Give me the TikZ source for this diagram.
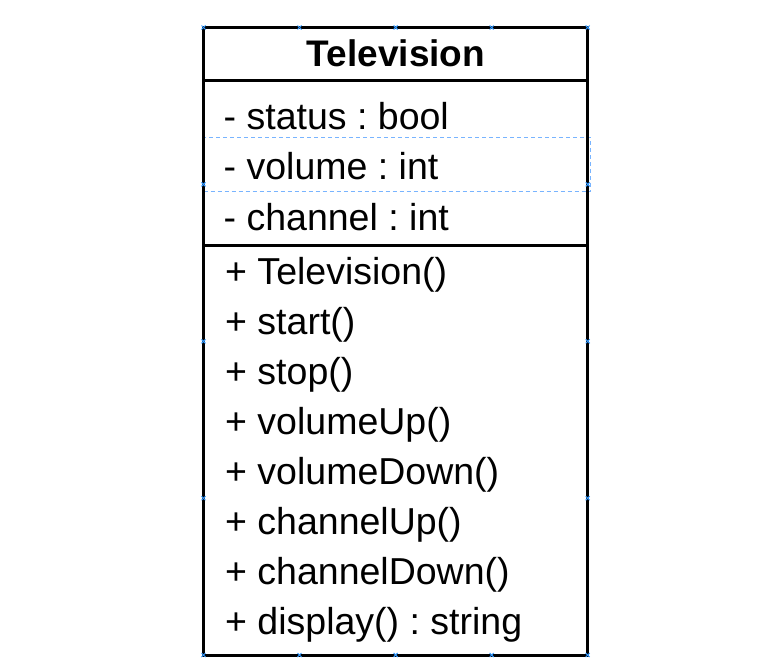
\documentclass[tikz,border=0pt]{standalone}
\usepackage{fontspec}
\setmainfont{Liberation Sans}
\frenchspacing
\begin{document}
\begin{tikzpicture}[x=1pt,y=-1pt,
  txt/.style={anchor=base west,inner sep=0pt,font=\fontsize{37.5}{40}\selectfont},
  ttl/.style={anchor=center,inner sep=0pt,font=\fontsize{37}{40}\selectfont\bfseries},
  border/.style={line width=3pt,black},
  sel/.style={draw={rgb,255:red,120;green,180;blue,255},line width=1pt,dash pattern=on 4pt off 3pt},
  hdl/.style={draw={rgb,255:red,51;green,153;blue,255},line width=1pt}]
\useasboundingbox (0,0) rectangle (778,670);
\fill[white] (0,0) rectangle (778,670);
% coordinates
\coordinate (tl) at (203.5,27.5);
\coordinate (br) at (587.7,655);
% selection rectangle around volume row
\draw[sel] (202,137.3) rectangle (590.5,191.7);
% box
\draw[border] (tl) rectangle (br);
\draw[border] (203.5,80) -- (587.7,80);
\draw[border] (203.5,245.7) -- (587.7,245.7);
% title
\node[ttl] (title) at (396,53.5) {Television};
% attributes
\node[txt] (a1) at (223.5,129) {- status : bool};
\node[txt] (a2) at (223.5,179.5) {- volume : int};
\node[txt] (a3) at (223.5,230) {- channel : int};
% methods
\node[txt] (m1) at (225,284) {+ Television()};
\node[txt] (m2) at (225,334) {+ start()};
\node[txt] (m3) at (225,384) {+ stop()};
\node[txt] (m4) at (225,434) {+ volumeUp()};
\node[txt] (m5) at (225,484) {+ volumeDown()};
\node[txt] (m6) at (225,534) {+ channelUp()};
\node[txt] (m7) at (225,584) {+ channelDown()};
\node[txt] (m8) at (225,634) {+ display() : string};
% selection handles
\foreach \x in {203.5,299.5,395.6,491.7,587.7}{
  \foreach \y in {27.5,655}{
    \draw[hdl] (\x-2,\y-2) -- (\x+2,\y+2) (\x-2,\y+2) -- (\x+2,\y-2);
  }
}
\foreach \y in {184.4,341.3,498.2}{
  \foreach \x in {203.5,587.7}{
    \draw[hdl] (\x-2,\y-2) -- (\x+2,\y+2) (\x-2,\y+2) -- (\x+2,\y-2);
  }
}
\end{tikzpicture}
\end{document}
